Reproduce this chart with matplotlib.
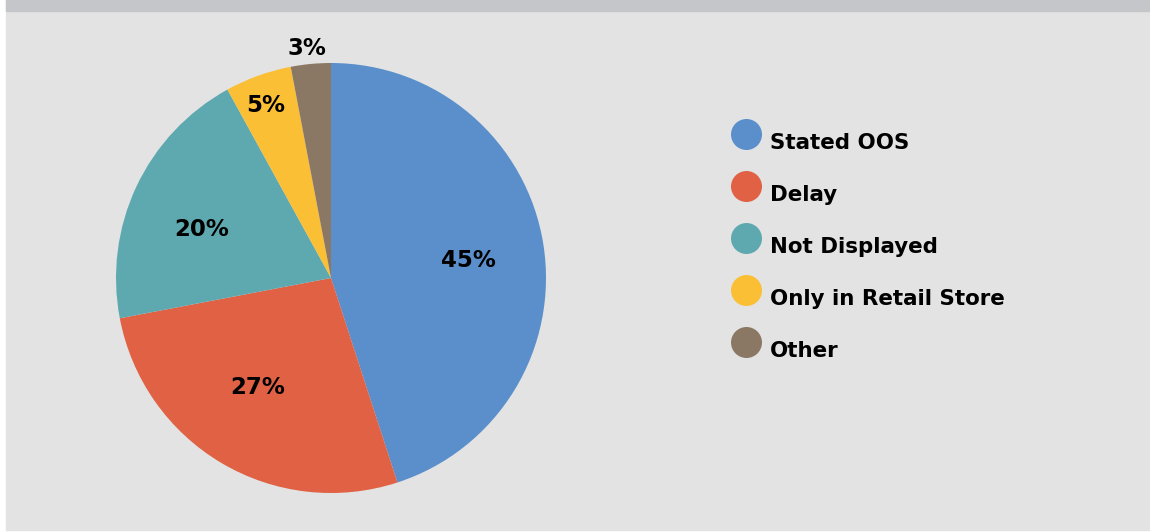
import matplotlib.pyplot as plt
import matplotlib.patches as mpatches
import numpy as np

# Reasons shoppers didn't find the product
labels = ["Stated OOS", "Delay", "Not Displayed", "Only in Retail Store", "Other"]
shares = [45, 27, 20, 5, 3]
colors = ["#5a8fcb", "#e06144", "#5ea9b0", "#fbbf35", "#8a7864"]
label_dist = [0.644, 0.607, 0.644, 0.867, 1.08]
label_turn = [-0.9, -3.6, 4.0, 0.8, 0.5]  # small angular nudges, degrees

W, H = 1150, 532
fig = plt.figure(figsize=(W / 100, H / 100), dpi=100, facecolor="white")

# panel background + darker header strip (behind the axes)
fig.patches.append(mpatches.Rectangle((6 / W, 2 / H), 1 - 6 / W, 1 - 2 / H,
                                      transform=fig.transFigure, color="#e3e3e3", zorder=-2))
fig.patches.append(mpatches.Rectangle((6 / W, 1 - 11 / H), 1 - 6 / W, 11 / H,
                                      transform=fig.transFigure, color="#c5c6c9", zorder=-1))

font = dict(family=["DejaVu Sans"], weight="bold", color="black")
FS = 16.5
LEG_FS = 15.4
CAP = 0.73 * FS * 100 / 72  # cap height in px

# pie: centre (331, 278), radius 215 px
ax = fig.add_axes([116 / W, (H - 493) / H, 430 / W, 430 / H])
ax.set_facecolor("none")
wedges, _ = ax.pie(shares, colors=colors, startangle=90, counterclock=False,
                   radius=1, wedgeprops=dict(linewidth=0))
ax.set_xlim(-1, 1)
ax.set_ylim(-1, 1)
ax.set_aspect("equal")
ax.axis("off")

for w, val, d, t in zip(wedges, shares, label_dist, label_turn):
    ang = np.deg2rad((w.theta1 + w.theta2) / 2 + t)
    ax.annotate(f"{val}%", (d * np.cos(ang), d * np.sin(ang)),
                xytext=(0, -CAP / 2), textcoords="offset pixels",
                ha="center", va="baseline", fontsize=FS, annotation_clip=False, **font)

# legend drawn by hand to get the big round bullets
lax = fig.add_axes([0, 0, 1, 1])
lax.set_xlim(0, W)
lax.set_ylim(H, 0)
lax.axis("off")
lax.set_facecolor("none")
for i, (lab, col) in enumerate(zip(labels, colors)):
    y = 134 + i * 52
    lax.scatter([746], [y], s=(31 * 0.72) ** 2, color=col, linewidths=0)
    lax.text(770, y + 15, lab, ha="left", va="baseline", fontsize=LEG_FS, **font)

fig.savefig("out.png", dpi=100, facecolor=fig.get_facecolor())
